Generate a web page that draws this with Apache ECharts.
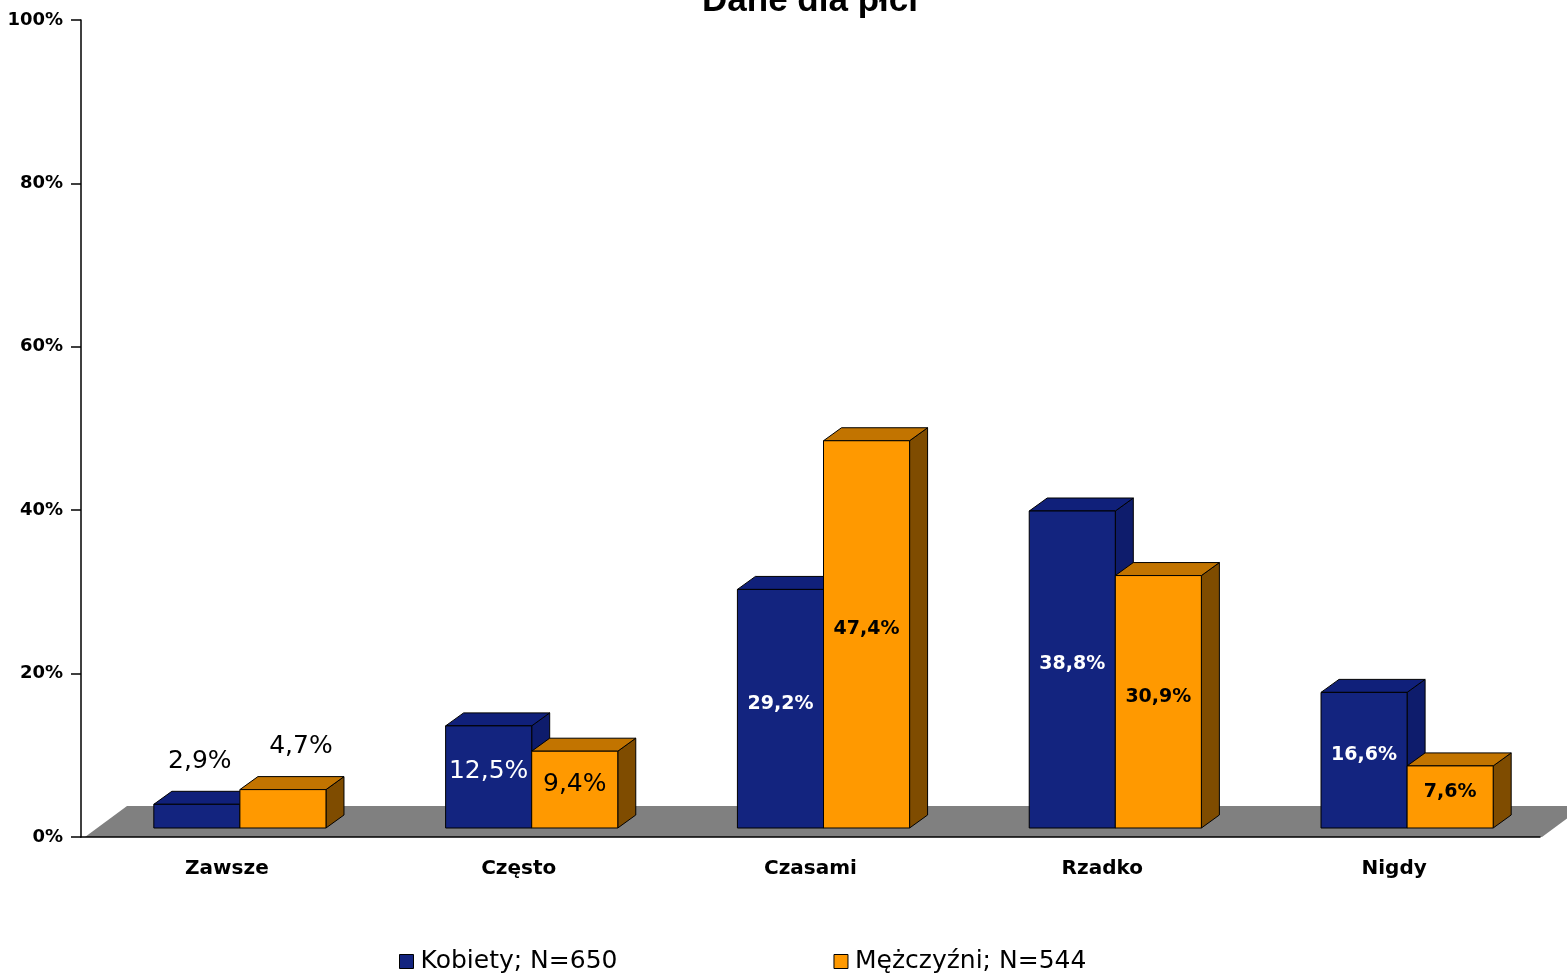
<!DOCTYPE html>
<html>
<head>
<meta charset="utf-8">
<title>Dane dla płci</title>
<script src="https://cdn.jsdelivr.net/npm/echarts@6/dist/echarts.min.js"></script>
<style>
  html, body { margin: 0; padding: 0; background: #ffffff; }
  #chart { width: 1567px; height: 975px; }
</style>
</head>
<body>
<div id="chart"></div>
<script>
// ---- data ----
const categories = ['Zawsze', 'Często', 'Czasami', 'Rzadko', 'Nigdy'];
const kobiety = [2.9, 12.5, 29.2, 38.8, 16.6];
const mezczyzni = [4.7, 9.4, 47.4, 30.9, 7.6];
const seriesNames = ['Kobiety; N=650', 'Mężczyźni; N=544'];
const yTicks = [0, 20, 40, 60, 80, 100];
const titleText = 'Dane dla płci';

// ---- look ----
const palettes = [
  { front: '#13247f', top: '#10207a', side: '#0e1c6c', label: '#ffffff' },
  { front: '#ff9900', top: '#c27400', side: '#7f4c00', label: '#000000' }
];
const DX = 18, DY = 13;          // receding edge of each box
const LIFT_X = 13, LIFT_Y = 9;   // boxes stand a little behind the floor's front edge
const BAR_FRAC = 0.295;          // width of one box as a share of the category band
const FLOOR_DX = 42, FLOOR_DY = 31;
const bigLabelCats = new Set(['Zawsze', 'Często']);

function fmt(v) {
  return v.toFixed(1).replace('.', ',') + '%';
}

function barRenderer(side) {
  const pal = palettes[side];
  return function (params, api) {
    const ci = api.value(0);
    const v = api.value(1);
    const base = api.coord([ci, 0]);
    const top = api.coord([ci, v]);
    const w = api.size([1, 0])[0] * BAR_FRAC;
    const xL = base[0] + LIFT_X + (side === 0 ? -w : 0);
    const xR = xL + w;
    const yB = base[1] - LIFT_Y;
    const yT = top[1] - LIFT_Y;
    const edge = { stroke: '#000000', lineWidth: 1 };
    const children = [
      { type: 'polygon',
        shape: { points: [[xR, yB], [xR + DX, yB - DY], [xR + DX, yT - DY], [xR, yT]] },
        style: Object.assign({ fill: pal.side }, edge) },
      { type: 'polygon',
        shape: { points: [[xL, yT], [xL + DX, yT - DY], [xR + DX, yT - DY], [xR, yT]] },
        style: Object.assign({ fill: pal.top }, edge) },
      { type: 'rect',
        shape: { x: xL, y: yT, width: w, height: yB - yT },
        style: Object.assign({ fill: pal.front }, edge) }
    ];
    const big = bigLabelCats.has(categories[ci]);
    const font = big ? 'normal 25px "DejaVu Sans"' : 'bold 19px "DejaVu Sans"';
    const h = yB - yT;
    let lx, ly, color;
    if (h < 45) {
      // short boxes carry their value above the top face
      lx = (xL + xR) / 2 + (side === 0 ? 3 : DX);
      ly = yT - 43;
      color = '#000000';
    } else {
      lx = (xL + xR) / 2;
      ly = (yT + yB) / 2 - 5;
      color = pal.label;
    }
    children.push({
      type: 'text',
      style: { text: fmt(v), x: lx, y: ly, fill: color, font: font,
               textAlign: 'center', textVerticalAlign: 'middle' }
    });
    return { type: 'group', children: children };
  };
}

function floorRenderer(params, api) {
  const cs = params.coordSys;
  const yF = cs.y + cs.height;
  const xL = cs.x, xR = cs.x + cs.width;
  return {
    type: 'polygon',
    shape: { points: [[xL + 4, yF], [xL + 4 + FLOOR_DX, yF - FLOOR_DY],
                      [xR + 2 + FLOOR_DX, yF - FLOOR_DY], [xR + 2, yF]] },
    style: { fill: '#808080' }
  };
}

const chart = echarts.init(document.getElementById('chart'), null, { renderer: 'canvas' });

chart.setOption({
  animation: false,
  backgroundColor: '#ffffff',
  title: {
    text: titleText,
    left: 805,
    textAlign: 'center',
    top: -21,
    textStyle: { fontFamily: '"Liberation Sans", Arial, sans-serif', fontWeight: 'bold',
                 fontSize: 35, color: '#000000' }
  },
  grid: { left: 81, right: 27, top: 20, bottom: 138, containLabel: false },
  legend: {
    data: seriesNames.map(function (n) {
      return { name: n, itemStyle: { borderColor: '#000000', borderWidth: 1 } };
    }),
    left: 394,
    top: 944,
    icon: 'rect',
    itemWidth: 14,
    itemHeight: 14,
    itemGap: 216,
    selectedMode: false,
    textStyle: { fontFamily: '"DejaVu Sans"', fontSize: 25, color: '#000000',
                 padding: [0, 0, 0, 2] }
  },
  xAxis: {
    type: 'category',
    data: categories,
    z: 5,
    axisLine: { lineStyle: { color: '#000000', width: 1.5 } },
    axisTick: { length: 11, lineStyle: { color: '#000000', width: 1.5 } },
    axisLabel: { margin: 22, color: '#000000', fontFamily: '"DejaVu Sans"',
                 fontWeight: 'bold', fontSize: 20 },
    splitLine: { show: false }
  },
  yAxis: {
    type: 'value',
    min: yTicks[0],
    max: yTicks[yTicks.length - 1],
    interval: yTicks[1] - yTicks[0],
    axisLine: { show: true, lineStyle: { color: '#000000', width: 1.5 } },
    axisTick: { show: true, length: 10, lineStyle: { color: '#000000', width: 1.5 } },
    axisLabel: { formatter: '{value}%', margin: 18, color: '#000000',
                 fontFamily: '"DejaVu Sans"', fontWeight: 'bold', fontSize: 18 },
    splitLine: { show: false }
  },
  series: [
    {
      type: 'custom',
      name: 'floor',
      silent: true,
      z: 1,
      renderItem: floorRenderer,
      data: [[0, 0]],
      encode: { x: 0, y: 1 }
    },
    {
      type: 'custom',
      name: seriesNames[0],
      z: 2,
      itemStyle: { color: palettes[0].front },
      renderItem: barRenderer(0),
      data: kobiety.map(function (v, i) { return [i, v]; }),
      encode: { x: 0, y: 1 }
    },
    {
      type: 'custom',
      name: seriesNames[1],
      z: 2,
      itemStyle: { color: palettes[1].front },
      renderItem: barRenderer(1),
      data: mezczyzni.map(function (v, i) { return [i, v]; }),
      encode: { x: 0, y: 1 }
    }
  ]
});
</script>
</body>
</html>
